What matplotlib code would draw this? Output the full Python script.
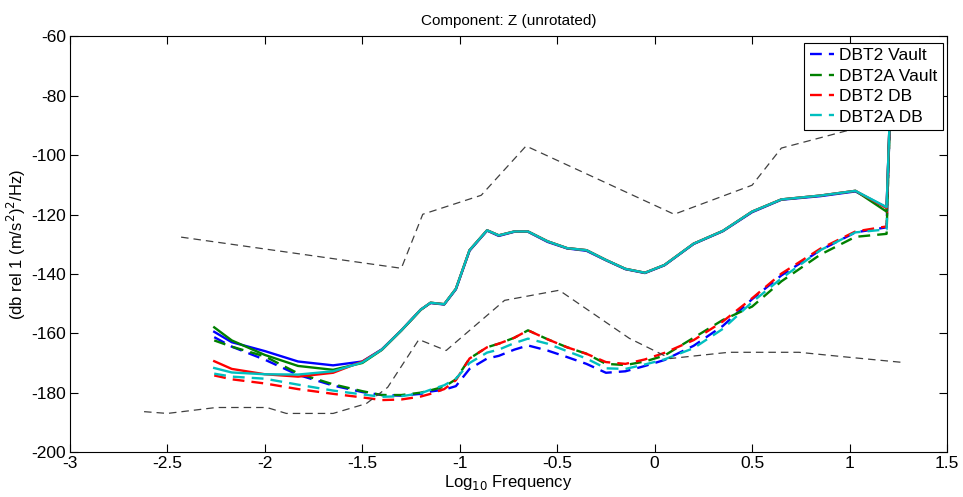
import numpy as np
import matplotlib
matplotlib.use("Agg")
import matplotlib.pyplot as plt

plt.rcParams['font.family'] = ['Liberation Sans', 'DejaVu Sans']
plt.rcParams['axes.unicode_minus'] = False

# log10 frequency grid shared by the station curves
freq = [-2.26, -2.17, -2.0, -1.83, -1.65, -1.5, -1.4, -1.3, -1.2, -1.15, -1.08,
        -1.02, -0.95, -0.86, -0.8, -0.72, -0.65, -0.55, -0.45, -0.35, -0.25,
        -0.15, -0.05, 0.05, 0.2, 0.35, 0.5, 0.65, 0.85, 1.03, 1.19, 1.21]

# upper (solid) curves
upper_dbt2_vault = [-159.5, -163.0, -166.0, -169.5, -170.8, -169.5, -165.4, -159.0, -152.0, -149.8,
                    -150.3, -145.2, -132.2, -125.4, -127.2, -125.8, -125.8, -129.2, -131.4, -132.2,
                    -135.4, -138.4, -139.7, -137.1, -129.9, -125.6, -119.2, -115.0, -113.8, -112.2,
                    -117.6, -80.0]
upper_dbt2a_vault = [-158.0, -162.4, -167.3, -171.0, -172.3, -170.0, -165.6, -159.1, -152.1, -149.7,
                     -150.2, -145.0, -132.0, -125.3, -127.0, -125.7, -125.7, -129.0, -131.3, -132.0,
                     -135.3, -138.3, -139.6, -137.0, -129.8, -125.5, -119.0, -114.9, -113.6, -112.0,
                     -119.0, -80.0]
upper_dbt2_db = [-169.4, -172.0, -173.8, -174.6, -173.3, -169.5, -165.5, -159.0, -152.0, -149.7,
                 -150.2, -145.0, -132.0, -125.3, -127.0, -125.7, -125.7, -129.0, -131.3, -132.0,
                 -135.3, -138.3, -139.6, -137.0, -129.8, -125.5, -119.0, -114.9, -113.6, -112.0,
                 -117.8, -80.0]
upper_dbt2a_db = [-171.7, -173.2, -173.8, -173.9, -172.8, -169.8, -165.5, -159.0, -152.0, -149.7,
                  -150.2, -145.0, -132.0, -125.3, -127.0, -125.7, -125.7, -129.0, -131.3, -132.0,
                  -135.3, -138.3, -139.6, -137.0, -129.8, -125.5, -119.0, -114.9, -113.6, -112.0,
                  -117.5, -80.0]

# lower (dashed) curves
lower_dbt2_vault = [-161.3, -164.5, -168.9, -174.0, -177.6, -179.8, -180.8, -181.0, -180.4, -179.6,
                    -179.0, -177.8, -172.0, -168.5, -167.6, -165.5, -164.1, -165.8, -168.0, -170.3,
                    -173.3, -172.8, -171.0, -169.0, -164.2, -157.5, -148.5, -140.5, -132.0, -126.0,
                    -124.3, -80.0]
lower_dbt2a_vault = [-162.4, -164.5, -167.8, -173.5, -177.2, -179.5, -180.8, -180.8, -180.0, -179.2,
                     -178.0, -175.5, -168.5, -164.7, -163.5, -161.5, -159.0, -162.0, -164.7, -166.9,
                     -170.3, -170.7, -169.5, -167.5, -161.5, -155.5, -151.0, -142.5, -133.5, -127.5,
                     -126.5, -80.0]
lower_dbt2_db = [-174.2, -175.5, -176.9, -178.8, -180.4, -181.6, -182.5, -182.3, -181.3, -180.4,
                 -178.8, -175.8, -168.5, -164.7, -163.5, -161.5, -159.0, -162.0, -164.7, -166.9,
                 -169.7, -170.3, -168.8, -166.6, -162.3, -156.0, -148.2, -139.9, -131.5, -125.7,
                 -124.0, -80.0]
lower_dbt2a_db = [-173.6, -174.6, -175.3, -177.3, -179.3, -180.6, -181.4, -181.2, -180.2, -179.0,
                  -177.5, -175.3, -170.0, -166.5, -165.5, -163.3, -161.8, -163.5, -166.0, -168.5,
                  -171.8, -172.0, -170.5, -168.8, -165.0, -158.5, -149.5, -141.5, -132.0, -126.0,
                  -125.0, -80.0]

# high / low noise models
nhnm_x = [-2.43, -1.30, -1.19, -0.89, -0.66, 0.10, 0.50, 0.65, 0.88, 1.00]
nhnm_y = [-127.6, -138.1, -119.9, -113.5, -96.9, -119.9, -110.1, -97.6, -93.6, -91.5]
nlnm_x = [-2.62, -2.50, -2.25, -1.99, -1.89, -1.65, -1.48, -1.37, -1.21, -1.07,
          -0.77, -0.49, -0.13, 0.08, 0.38, 0.74, 1.00, 1.27]
nlnm_y = [-186.4, -187.0, -185.0, -185.0, -187.0, -187.0, -183.7, -178.2, -162.1, -165.8,
          -148.9, -145.5, -161.7, -168.5, -166.4, -166.4, -168.1, -169.8]

labels = ['DBT2 Vault', 'DBT2A Vault', 'DBT2 DB', 'DBT2A DB']
colors = [(0, 0, 1), (0, 0.5, 0), (1, 0, 0), (0, 0.75, 0.75)]

fig = plt.figure(figsize=(9.63, 4.97), dpi=100)
ax = fig.add_axes([0.0727, 0.0905, 0.9107, 0.8361])

handles = []
for ys, c, lab in zip([lower_dbt2_vault, lower_dbt2a_vault, lower_dbt2_db, lower_dbt2a_db],
                      colors, labels):
    h, = ax.plot(freq, ys, '--', color=c, lw=1.7, dashes=(5, 3), label=lab)
    handles.append(h)
for ys, c in zip([upper_dbt2_vault, upper_dbt2a_vault, upper_dbt2_db, upper_dbt2a_db], colors):
    ax.plot(freq, ys, '-', color=c, lw=1.7)

ax.plot(nhnm_x, nhnm_y, '--', color=(0.25, 0.25, 0.25), lw=0.9, dashes=(6, 4))
ax.plot(nlnm_x, nlnm_y, '--', color=(0.25, 0.25, 0.25), lw=0.9, dashes=(6, 4))

ax.set_xlim(-3, 1.5)
ax.set_ylim(-200, -60)
ax.set_xticks(np.arange(-3, 1.51, 0.5))
ax.set_xticklabels(['-3', '-2.5', '-2', '-1.5', '-1', '-0.5', '0', '0.5', '1', '1.5'])
ax.set_yticks(np.arange(-200, -59, 20))
ax.tick_params(direction='in', length=6, top=True, right=True, labelsize=12.5, width=0.8, pad=3)
for s in ax.spines.values():
    s.set_linewidth(0.8)

ax.set_title('Component: Z (unrotated)', fontsize=11, pad=8)
ax.set_xlabel('Log$_{10}$ Frequency', fontsize=12, labelpad=1)
ax.set_ylabel('(db rel 1 (m/s$^{2}$)$^{2}$/Hz)', fontsize=12, labelpad=2)

leg = ax.legend(handles=handles, loc='upper right', bbox_to_anchor=(0.995, 0.984),
                borderaxespad=0, fontsize=12.5, handlelength=1.4, handletextpad=0.3,
                labelspacing=0.3, borderpad=0.3, fancybox=False, framealpha=1)
leg.get_frame().set_edgecolor('black')
leg.get_frame().set_linewidth(0.8)

fig.savefig('out.png', dpi=100)
